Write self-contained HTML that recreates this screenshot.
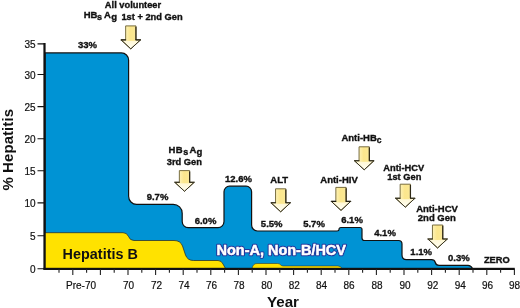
<!DOCTYPE html>
<html><head><meta charset="utf-8">
<style>
html,body{margin:0;padding:0;background:#fff;}
body{width:520px;height:308px;overflow:hidden;}
svg{display:block;font-family:"Liberation Sans",Arial,sans-serif;}
.b{font-weight:bold;font-size:9.5px;fill:#111;stroke:#111;stroke-width:0.35px;}
.t{font-size:10px;fill:#111;stroke:#111;stroke-width:0.2px;}
.big{font-weight:bold;font-size:14px;fill:#111;}
</style></head><body>
<svg width="520" height="308" viewBox="0 0 520 308">
<defs>
<linearGradient id="ag" x1="0" y1="0" x2="1" y2="0">
<stop offset="0" stop-color="#fdf2b6"/><stop offset="0.45" stop-color="#fbe68c"/><stop offset="0.8" stop-color="#fbe892"/><stop offset="1" stop-color="#f7e7a2"/>
</linearGradient>
<linearGradient id="hg" x1="0" y1="0" x2="0" y2="1">
<stop offset="0" stop-color="#fff7d2"/><stop offset="1" stop-color="#fffef2"/>
</linearGradient>
</defs>
<rect width="520" height="308" fill="#fff"/>

<!-- blue area -->
<path d="M45,52.900 H121.400 A7.200,7.200 0 0 1 128.600,60.100 V196.300 A8,8 0 0 0 136.600,204.300 H173.200 A9,9 0 0 1 182.200,213.300 V221.600 A6,6 0 0 0 188.200,227.600 H218 A6,6 0 0 0 224,221.600 V191.700 A5.500,5.500 0 0 1 229.500,186.200 H246.100 A5.500,5.500 0 0 1 251.600,191.700 V225 A6,6 0 0 0 257.600,231 H337 Q339,231 339,229.500 Q339,227.500 341,227.500 H360 Q362,227.500 362,229.500 V238 Q362,240.500 364.500,240.500 H398.500 Q402,240.500 402,244 V255 Q402,259.700 406.500,259.700 H431.500 Q434.500,259.700 435.300,262.500 Q436,265.300 439,265.300 H468 Q471,265.300 472.500,268.500 H45 Z" fill="#0093d4" stroke="#111" stroke-width="1.200"/>
<!-- yellow -->
<path d="M45,232.700 H123 Q127,232.700 128.500,236.500 Q130,240.500 134,240.500 H174 Q180.500,240.500 182.500,246 L185.500,255 Q187.500,260.500 193.500,260.500 H218 Q221.500,260.500 223,264 L225.500,268.500 H45 Z" fill="#ffe200" stroke="#222" stroke-width="0.700"/>
<path d="M252,268.500 Q253,263.500 257,263.500 H277.500 Q279.500,263.500 280.500,264.800 Q281.500,266 283.500,266 H338 Q341,266 342,268.500 Z" fill="#ffe200" stroke="#222" stroke-width="0.500"/>

<!-- axes -->
<rect x="43.400" y="43" width="2.200" height="226.500" fill="#111"/>
<rect x="43.400" y="267.800" width="471.400" height="2.200" fill="#111"/>
<path stroke="#111" stroke-width="1.100" d="M37.500,43.900H44 M37.500,74.500H44 M37.500,106.600H44 M37.500,138.700H44 M37.500,170.800H44 M37.500,202.900H44 M37.500,235.700H44 M37.500,268.700H44"/>
<path stroke="#222" stroke-width="1.100" d="M59,269V272.8M72.8,269V275M86.6,269V272.8M100.4,269V275M114.2,269V272.8M128,269V275M141.8,269V272.8M155.6,269V275M169.4,269V272.8M183.2,269V275M197,269V272.8M210.8,269V275M224.6,269V272.8M238.4,269V275M252.2,269V272.8M266,269V275M279.8,269V272.8M293.6,269V275M307.4,269V272.8M321.2,269V275M335,269V272.8M348.8,269V275M362.6,269V272.8M376.4,269V275M390.2,269V272.8M404,269V275M417.8,269V272.8M431.6,269V275M445.4,269V272.8M459.2,269V275M473,269V272.8M486.8,269V275M500.6,269V272.8M514.4,269V275"/>

<g class="t" text-anchor="end">
<text x="35.500" y="47.9">35</text><text x="35.500" y="78.6">30</text><text x="35.500" y="110.6">25</text><text x="35.500" y="142.6">20</text><text x="35.500" y="174.9">15</text><text x="35.500" y="207.0">10</text><text x="35.500" y="239.6">5</text><text x="35.500" y="272.6">0</text>
</g>
<g class="t" text-anchor="middle">
<text x="81" y="288.500">Pre-70</text>
<text x="128.500" y="288.500">70</text><text x="156.500" y="288.500">72</text><text x="184" y="288.500">74</text><text x="211.500" y="288.500">76</text><text x="239" y="288.500">78</text><text x="266.800" y="288.500">80</text><text x="294.300" y="288.500">82</text><text x="321.500" y="288.500">84</text><text x="349" y="288.500">86</text><text x="377" y="288.500">88</text><text x="405" y="288.500">90</text><text x="432.800" y="288.500">92</text><text x="460.300" y="288.500">94</text><text x="487.500" y="288.500">96</text><text x="514.500" y="288.500">98</text>
</g>
<text class="big" x="267" y="307" textLength="32" lengthAdjust="spacingAndGlyphs">Year</text>
<text class="big" style="font-size:15px" transform="translate(12.600,190.500) rotate(-90)" textLength="81.500">% Hepatitis</text>

<!-- arrows -->
<path d="M121.1,39.9 H140.5 L130.8,48.9 Z" fill="url(#hg)"/><path d="M125.65,25.9 H135.95 V40.9 H125.65 Z" fill="url(#ag)"/><path d="M125.65,25.9 H135.95 V39.9 H140.5 L130.8,48.9 L121.1,39.9 H125.65 Z" fill="none" stroke="#6a5f30" stroke-width="0.9" stroke-linejoin="round"/><path d="M135.95,26.7 V39.9" fill="none" stroke="#2f2915" stroke-width="1.2"/><path d="M121.1,39.9 H125.65 M135.95,39.9 H140.5" fill="none" stroke="#1f1c10" stroke-width="1.1" stroke-linecap="round"/><path d="M121.1,39.9 L130.8,48.9 L140.5,39.9" fill="none" stroke="#3d3824" stroke-width="1" stroke-linejoin="round"/><path d="M174.8,182.3 H194.2 L184.5,191.3 Z" fill="url(#hg)"/><path d="M179.35,170.6 H189.65 V183.3 H179.35 Z" fill="url(#ag)"/><path d="M179.35,170.6 H189.65 V182.3 H194.2 L184.5,191.3 L174.8,182.3 H179.35 Z" fill="none" stroke="#6a5f30" stroke-width="0.9" stroke-linejoin="round"/><path d="M189.65,171.4 V182.3" fill="none" stroke="#2f2915" stroke-width="1.2"/><path d="M174.8,182.3 H179.35 M189.65,182.3 H194.2" fill="none" stroke="#1f1c10" stroke-width="1.1" stroke-linecap="round"/><path d="M174.8,182.3 L184.5,191.3 L194.2,182.3" fill="none" stroke="#3d3824" stroke-width="1" stroke-linejoin="round"/><path d="M271,202.8 H290.4 L280.7,211.8 Z" fill="url(#hg)"/><path d="M275.55,188.8 H285.85 V203.8 H275.55 Z" fill="url(#ag)"/><path d="M275.55,188.8 H285.85 V202.8 H290.4 L280.7,211.8 L271,202.8 H275.55 Z" fill="none" stroke="#6a5f30" stroke-width="0.9" stroke-linejoin="round"/><path d="M285.85,189.6 V202.8" fill="none" stroke="#2f2915" stroke-width="1.2"/><path d="M271,202.8 H275.55 M285.85,202.8 H290.4" fill="none" stroke="#1f1c10" stroke-width="1.1" stroke-linecap="round"/><path d="M271,202.8 L280.7,211.8 L290.4,202.8" fill="none" stroke="#3d3824" stroke-width="1" stroke-linejoin="round"/><path d="M331.3,201.4 H350.7 L341,210.4 Z" fill="url(#hg)"/><path d="M335.85,187.4 H346.15 V202.4 H335.85 Z" fill="url(#ag)"/><path d="M335.85,187.4 H346.15 V201.4 H350.7 L341,210.4 L331.3,201.4 H335.85 Z" fill="none" stroke="#6a5f30" stroke-width="0.9" stroke-linejoin="round"/><path d="M346.15,188.2 V201.4" fill="none" stroke="#2f2915" stroke-width="1.2"/><path d="M331.3,201.4 H335.85 M346.15,201.4 H350.7" fill="none" stroke="#1f1c10" stroke-width="1.1" stroke-linecap="round"/><path d="M331.3,201.4 L341,210.4 L350.7,201.4" fill="none" stroke="#3d3824" stroke-width="1" stroke-linejoin="round"/><path d="M354.5,160.8 H373.9 L364.2,169.8 Z" fill="url(#hg)"/><path d="M359.05,146.8 H369.35 V161.8 H359.05 Z" fill="url(#ag)"/><path d="M359.05,146.8 H369.35 V160.8 H373.9 L364.2,169.8 L354.5,160.8 H359.05 Z" fill="none" stroke="#6a5f30" stroke-width="0.9" stroke-linejoin="round"/><path d="M369.35,147.6 V160.8" fill="none" stroke="#2f2915" stroke-width="1.2"/><path d="M354.5,160.8 H359.05 M369.35,160.8 H373.9" fill="none" stroke="#1f1c10" stroke-width="1.1" stroke-linecap="round"/><path d="M354.5,160.8 L364.2,169.8 L373.9,160.8" fill="none" stroke="#3d3824" stroke-width="1" stroke-linejoin="round"/><path d="M395.6,198.2 H415 L405.3,207.2 Z" fill="url(#hg)"/><path d="M400.15,184.2 H410.45 V199.2 H400.15 Z" fill="url(#ag)"/><path d="M400.15,184.2 H410.45 V198.2 H415 L405.3,207.2 L395.6,198.2 H400.15 Z" fill="none" stroke="#6a5f30" stroke-width="0.9" stroke-linejoin="round"/><path d="M410.45,185 V198.2" fill="none" stroke="#2f2915" stroke-width="1.2"/><path d="M395.6,198.2 H400.15 M410.45,198.2 H415" fill="none" stroke="#1f1c10" stroke-width="1.1" stroke-linecap="round"/><path d="M395.6,198.2 L405.3,207.2 L415,198.2" fill="none" stroke="#3d3824" stroke-width="1" stroke-linejoin="round"/><path d="M427.9,239 H447.3 L437.6,248 Z" fill="url(#hg)"/><path d="M432.45,225 H442.75 V240 H432.45 Z" fill="url(#ag)"/><path d="M432.45,225 H442.75 V239 H447.3 L437.6,248 L427.9,239 H432.45 Z" fill="none" stroke="#6a5f30" stroke-width="0.9" stroke-linejoin="round"/><path d="M442.75,225.8 V239" fill="none" stroke="#2f2915" stroke-width="1.2"/><path d="M427.9,239 H432.45 M442.75,239 H447.3" fill="none" stroke="#1f1c10" stroke-width="1.1" stroke-linecap="round"/><path d="M427.9,239 L437.6,248 L447.3,239" fill="none" stroke="#3d3824" stroke-width="1" stroke-linejoin="round"/>

<!-- labels -->
<g class="b">
<text transform="translate(133,7.7) scale(1,1)" font-size="9.3" text-anchor="middle">All volunteer</text>
<text transform="translate(83.7,17.6) scale(1,1)" font-size="9.5" text-anchor="start">H</text>
<text transform="translate(90.4,17.6) scale(1,1)" font-size="9.5" text-anchor="start">B</text>
<text transform="translate(97,19.8) scale(1,1)" font-size="9" text-anchor="start">s</text>
<text transform="translate(103.9,17.6) scale(1,1)" font-size="9.5" text-anchor="start">A</text>
<text transform="translate(111.2,20.1) scale(1,1)" font-size="9.5" text-anchor="start">g</text>
<text transform="translate(121.4,19.5) scale(1,1)" font-size="9.3" text-anchor="start">1st + 2nd Gen</text>
<text transform="translate(87.5,48) scale(1,1)" font-size="9.5" text-anchor="middle">33%</text>
<text transform="translate(157.5,199.5) scale(1,1)" font-size="9.5" text-anchor="middle">9.7%</text>
<text transform="translate(168.4,152.9) scale(1,1)" font-size="9.5" text-anchor="start">H</text>
<text transform="translate(175.8,152.9) scale(1,1)" font-size="9.5" text-anchor="start">B</text>
<text transform="translate(183.2,154.9) scale(1,1)" font-size="9" text-anchor="start">s</text>
<text transform="translate(189.6,152.9) scale(1,1)" font-size="9.5" text-anchor="start">A</text>
<text transform="translate(196.4,155.3) scale(1,1)" font-size="9.5" text-anchor="start">g</text>
<text transform="translate(184.3,164.6) scale(1,1)" font-size="9.3" text-anchor="middle">3rd Gen</text>
<text transform="translate(205.5,223.7) scale(1,1)" font-size="9.5" text-anchor="middle">6.0%</text>
<text transform="translate(238.5,181.6) scale(1,1)" font-size="9.5" text-anchor="middle">12.6%</text>
<text transform="translate(279.2,182.6) scale(1,1)" font-size="9.5" text-anchor="middle">ALT</text>
<text transform="translate(271.7,226.6) scale(1,1)" font-size="9.5" text-anchor="middle">5.5%</text>
<text transform="translate(314,226.6) scale(1,1)" font-size="9.5" text-anchor="middle">5.7%</text>
<text transform="translate(339,182.6) scale(1,1)" font-size="9.5" text-anchor="middle">Anti-HIV</text>
<text transform="translate(352,222.7) scale(1,1)" font-size="9.5" text-anchor="middle">6.1%</text>
<text transform="translate(361.5,140.7) scale(1,1)" font-size="9.5" text-anchor="middle">Anti-HB<tspan dy="1.9" font-size="8.5">c</tspan></text>
<text transform="translate(403.7,170.6) scale(1,1)" font-size="9.3" text-anchor="middle">Anti-HCV</text>
<text transform="translate(404.3,179.8) scale(1,1)" font-size="9.3" text-anchor="middle">1st Gen</text>
<text transform="translate(385,236.3) scale(1,1)" font-size="9.5" text-anchor="middle">4.1%</text>
<text transform="translate(437,211.8) scale(1,1)" font-size="9.5" text-anchor="middle">Anti-HCV</text>
<text transform="translate(436.8,220.9) scale(1,1)" font-size="9.5" text-anchor="middle">2nd Gen</text>
<text transform="translate(421.2,255.3) scale(1,1)" font-size="9.5" text-anchor="middle">1.1%</text>
<text transform="translate(458.9,260.6) scale(1,1)" font-size="9.5" text-anchor="middle">0.3%</text>
<text transform="translate(496.8,262.6) scale(1,1)" font-size="9.3" text-anchor="middle">ZERO</text>
</g>
<text x="62.500" y="258.500" class="big" style="font-size:14.400px" textLength="75.500">Hepatitis B</text>
<text x="216.500" y="255.300" class="big" textLength="129.500" style="font-size:14.500px;fill:#21359a;stroke:#21359a;stroke-width:2.600;stroke-linejoin:round">Non-A, Non-B/HCV</text>
<text x="216.500" y="255.300" class="big" textLength="129.500" style="font-size:14.500px;fill:#fff;stroke:#fff;stroke-width:0.500">Non-A, Non-B/HCV</text>
</svg>
</body></html>
